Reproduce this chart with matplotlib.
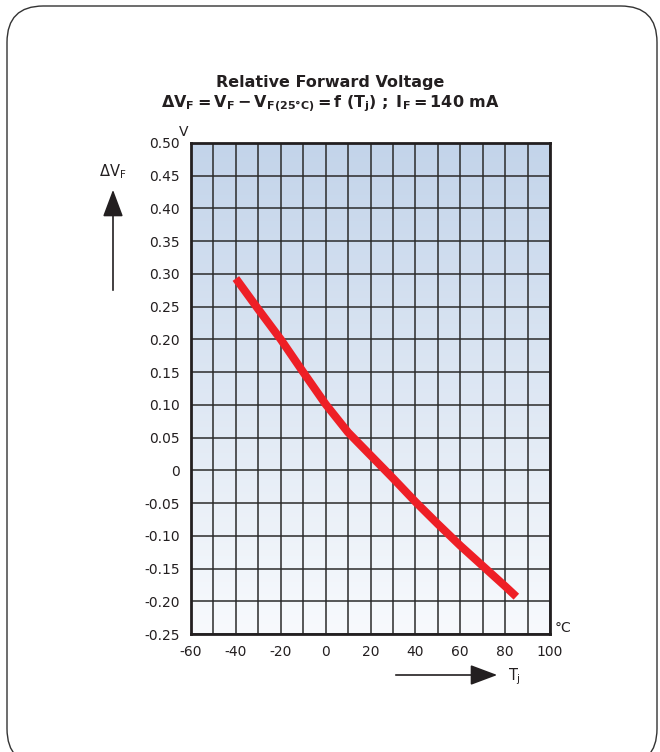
import numpy as np
import matplotlib
matplotlib.use("Agg")
import matplotlib.pyplot as plt
from matplotlib.colors import LinearSegmentedColormap
from matplotlib.patches import FancyBboxPatch, FancyArrowPatch

plt.rcParams['font.family'] = ['DejaVu Sans']
plt.rcParams['axes.unicode_minus'] = False
plt.rcParams['mathtext.fontset'] = 'custom'
plt.rcParams['mathtext.rm'] = 'DejaVu Sans'
plt.rcParams['mathtext.it'] = 'DejaVu Sans'
plt.rcParams['mathtext.bf'] = 'DejaVu Sans:bold'

# curve
tj = [-40, -30, -20, -10, 0, 10, 20, 30, 40, 50, 60, 70, 80, 85]
dvf = [0.293, 0.246, 0.200, 0.150, 0.101, 0.058, 0.023, -0.012, -0.048,
       -0.082, -0.115, -0.146, -0.177, -0.193]

y_ticks = [0.50, 0.45, 0.40, 0.35, 0.30, 0.25, 0.20, 0.15, 0.10, 0.05, 0.0,
           -0.05, -0.10, -0.15, -0.20, -0.25]
y_labels = ["0.50", "0.45", "0.40", "0.35", "0.30", "0.25", "0.20", "0.15",
            "0.10", "0.05", "0", "-0.05", "-0.10", "-0.15", "-0.20", "-0.25"]
x_ticks = [-60, -40, -20, 0, 20, 40, 60, 80, 100]
x_grid = list(range(-60, 101, 10))

W, H = 660, 752
fig = plt.figure(figsize=(W / 100, H / 100), dpi=100)

# rounded frame around the whole figure
box = FancyBboxPatch((7 / W, 1 - 765 / H), (657 - 7) / W, (765 - 6) / H,
                     boxstyle="round,pad=0,rounding_size=0.055",
                     transform=fig.transFigure, fill=False,
                     edgecolor="#333333", linewidth=1.0, mutation_aspect=W / H)
fig.patches.append(box)

ax = fig.add_axes([191 / W, 1 - 634 / H, (550 - 191) / W, (634 - 143) / H])
ax.set_xlim(-60, 100)
ax.set_ylim(-0.25, 0.50)

# blue -> white vertical gradient
cmap = LinearSegmentedColormap.from_list("bg", ["#f8fafd", "#c3d4ea"])
grad = np.linspace(0, 1, 256).reshape(-1, 1)
ax.imshow(grad, extent=[-60, 100, -0.25, 0.50], origin="lower", aspect="auto",
          cmap=cmap, zorder=0)

for x in x_grid:
    ax.axvline(x, color="#2b2b2b", lw=1.1, zorder=1)
for y in y_ticks:
    ax.axhline(y, color="#2b2b2b", lw=1.1, zorder=1)

ax.plot(tj, dvf, color="#ee1f26", lw=5.8, solid_capstyle="butt",
        solid_joinstyle="round", zorder=3)

ax.set_yticks(y_ticks)
ax.set_yticklabels(y_labels)
ax.set_xticks(x_ticks)
ax.tick_params(length=0, labelsize=10, colors="#231f20")
ax.tick_params(axis="y", pad=8)
ax.tick_params(axis="x", pad=8)
for s in ax.spines.values():
    s.set_linewidth(2)
    s.set_color("#231f20")
    s.set_zorder(4)

# titles
fig.text(330 / W, 1 - 83 / H, "Relative Forward Voltage", ha="center",
         va="center", fontsize=11.5, fontweight="bold", color="#231f20")
fig.text(330 / W, 1 - 104 / H,
         r"$\mathbf{\Delta V_F = V_F - V_{F(25°C)} = f\ (T_j)\ ;\ I_F = 140\ mA}$",
         ha="center", va="center", fontsize=11.5, color="#231f20")

# unit labels
fig.text(184 / W, 1 - 132 / H, "V", ha="center", va="center", fontsize=10,
         color="#231f20")
fig.text(563 / W, 1 - 628 / H, "°C", ha="center", va="center", fontsize=10,
         color="#231f20")

# axis quantity labels with arrows
fig.text(113 / W, 1 - 172 / H, r"$\Delta V_F$", ha="center", va="center",
         fontsize=10.5, color="#231f20")
fig.patches.append(FancyArrowPatch(
    (113 / W, 1 - 293 / H), (113 / W, 1 - 187 / H), transform=fig.transFigure,
    arrowstyle="-|>,head_length=1.2,head_width=0.45", mutation_scale=14,
    color="#231f20", lw=1.2))
fig.patches.append(FancyArrowPatch(
    (393 / W, 1 - 675 / H), (500 / W, 1 - 675 / H), transform=fig.transFigure,
    arrowstyle="-|>,head_length=1.2,head_width=0.45", mutation_scale=14,
    color="#231f20", lw=1.2))
fig.text(508 / W, 1 - 677 / H, r"$T_j$", ha="left", va="center", fontsize=10.5,
         color="#231f20")

fig.savefig("out.png", dpi=100)
